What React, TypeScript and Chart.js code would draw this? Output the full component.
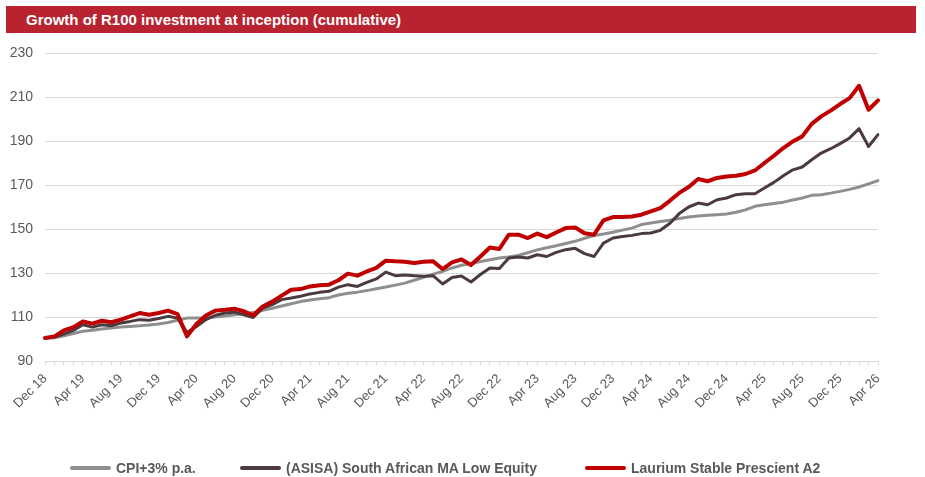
import React, { useEffect, useRef } from "react";
import { Chart, registerables } from "chart.js";

Chart.register(...registerables);

const months: string[] = (() => {
  const names = ["Jan", "Feb", "Mar", "Apr", "May", "Jun", "Jul", "Aug", "Sep", "Oct", "Nov", "Dec"];
  const out: string[] = [];
  let y = 2018;
  let m = 11;
  while (y < 2026 || (y === 2026 && m <= 3)) {
    out.push(`${names[m]} ${String(y).slice(2)}`);
    m++;
    if (m > 11) { m = 0; y++; }
  }
  return out;
})();

const cpiSeries = [
  100.2, 100.6, 101.5, 102.5, 103.5, 104.0, 104.5, 105.0, 105.4, 105.7,
  106.0, 106.4, 106.8, 107.5, 108.5, 109.5, 109.5, 109.5, 110.0, 110.5,
  111.0, 111.5, 112.0, 113.0, 114.0, 115.0, 116.0, 117.0, 117.7, 118.3,
  118.8, 120.0, 120.8, 121.3, 122.0, 122.8, 123.6, 124.5, 125.4, 126.7,
  128.0, 129.5, 130.7, 132.3, 133.5, 134.3, 135.2, 136.0, 136.8, 137.3,
  138.0, 139.2, 140.5, 141.5, 142.4, 143.4, 144.4, 145.8, 147.0, 147.7,
  148.5, 149.5, 150.4, 152.0, 152.7, 153.4, 154.0, 154.8, 155.5, 155.9,
  156.2, 156.5, 156.8, 157.6, 158.7, 160.3, 161.0, 161.6, 162.2, 163.2,
  164.1, 165.3, 165.6, 166.3, 167.1, 168.0, 169.1, 170.5, 172.0,
];

const asisaSeries = [
  100.4, 100.9, 102.2, 103.9, 106.5, 105.4, 106.5, 106.0, 107.3, 108.0,
  108.8, 108.5, 109.3, 110.3, 109.5, 103.0, 105.7, 108.8, 110.8, 111.8,
  112.2, 111.0, 109.8, 114.0, 115.6, 117.9, 118.6, 119.4, 120.5, 121.2,
  121.7, 123.6, 124.7, 123.9, 125.7, 127.3, 130.4, 128.8, 129.1, 128.8,
  128.5, 128.8, 125.0, 128.0, 128.6, 125.9, 129.3, 132.3, 132.0, 136.8,
  137.3, 136.8, 138.3, 137.5, 139.4, 140.6, 141.2, 138.8, 137.5, 143.6,
  145.9, 146.6, 147.1, 147.9, 148.2, 149.4, 152.5, 157.0, 160.0, 161.8,
  161.0, 163.3, 164.1, 165.6, 166.0, 166.0, 168.6, 171.2, 174.2, 176.9,
  178.2, 181.5, 184.5, 186.5, 188.8, 191.4, 195.6, 187.5, 192.9,
];

const lauriumSeries = [
  100.5, 101.2, 103.9, 105.4, 108.0, 107.0, 108.3, 107.6, 108.8, 110.3,
  111.8, 111.0, 111.8, 112.9, 111.3, 101.2, 106.8, 110.7, 112.9, 113.3,
  113.8, 112.6, 110.8, 114.8, 117.0, 119.7, 122.4, 122.7, 123.9, 124.4,
  124.7, 126.7, 129.7, 128.8, 130.7, 132.3, 135.6, 135.3, 135.1, 134.5,
  135.1, 135.3, 131.8, 134.8, 136.2, 133.6, 137.5, 141.6, 140.9, 147.4,
  147.4, 145.9, 147.9, 146.3, 148.4, 150.4, 150.7, 148.1, 147.4, 153.9,
  155.4, 155.4, 155.7, 156.5, 158.0, 159.5, 162.8, 166.4, 169.1, 172.7,
  171.7, 173.2, 173.9, 174.2, 175.0, 176.6, 180.0, 183.3, 186.8, 189.8,
  192.1, 197.8, 201.2, 203.8, 206.8, 209.5, 215.1, 204.2, 208.5,
];

const seriesNames = ["CPI+3% p.a.", "(ASISA) South African MA Low Equity", "Laurium Stable Prescient A2"];
const seriesColors = ["#8f8f8f", "#4b3b3f", "#c00000"];
const yTicks = [90, 110, 130, 150, 170, 190, 210, 230];

const FONT = '"Liberation Sans", Arial, Helvetica, sans-serif';

export default function App() {
  const canvasRef = useRef<HTMLCanvasElement | null>(null);

  useEffect(() => {
    const canvas = canvasRef.current;
    if (!canvas) return;
    const chart = new Chart(canvas, {
      type: "line",
      data: {
        labels: months,
        datasets: [
          {
            label: seriesNames[0],
            data: cpiSeries,
            borderColor: seriesColors[0],
            backgroundColor: seriesColors[0],
            borderWidth: 3,
            order: 3,
          },
          {
            label: seriesNames[1],
            data: asisaSeries,
            borderColor: seriesColors[1],
            backgroundColor: seriesColors[1],
            borderWidth: 3,
            order: 2,
          },
          {
            label: seriesNames[2],
            data: lauriumSeries,
            borderColor: seriesColors[2],
            backgroundColor: seriesColors[2],
            borderWidth: 4,
            order: 1,
          },
        ],
      },
      options: {
        responsive: false,
        animation: false,
        devicePixelRatio: 1,
        layout: { padding: { top: 53, right: 47, left: 0, bottom: 0 } },
        elements: {
          point: { radius: 0, hoverRadius: 0 },
          line: { tension: 0, borderJoinStyle: "round", borderCapStyle: "round" },
        },
        plugins: {
          legend: { display: false },
          tooltip: { enabled: false },
          title: { display: false },
        },
        scales: {
          x: {
            type: "category",
            offset: false,
            grid: {
              drawOnChartArea: false,
              drawTicks: true,
              tickLength: 4,
              color: "#d9d9d9",
            },
            border: { display: true, color: "#d9d9d9", width: 1 },
            ticks: {
              autoSkip: false,
              maxRotation: 45,
              minRotation: 45,
              color: "#595959",
              padding: 6,
              font: { family: FONT, size: 13 },
              callback: (_v: any, i: number) => (i % 4 === 0 ? months[i] : ""),
            },
            afterFit: (s: any) => {
              s.height = 116;
            },
          },
          y: {
            min: 90,
            max: 230,
            afterBuildTicks: (s: any) => {
              s.ticks = yTicks.map((v) => ({ value: v }));
            },
            grid: { color: "#d9d9d9", drawTicks: false, lineWidth: 1 },
            border: { display: false },
            ticks: {
              color: "#595959",
              padding: 12,
              font: { family: FONT, size: 14 },
            },
            afterFit: (s: any) => {
              s.width = 45;
            },
          },
        },
      },
    });
    return () => chart.destroy();
  }, []);

  const legendX = [70, 240, 585];

  return (
    <div
      style={{
        position: "absolute",
        left: 0,
        top: 0,
        width: 925,
        height: 477,
        background: "#ffffff",
        fontFamily: FONT,
        overflow: "hidden",
      }}
    >
      <canvas
        ref={canvasRef}
        width={925}
        height={477}
        style={{ position: "absolute", left: 0, top: 0, width: 925, height: 477 }}
      />
      <div
        style={{
          position: "absolute",
          left: 6,
          top: 6,
          width: 910,
          height: 27,
          background: "#b9232f",
          color: "#ffffff",
          fontWeight: "bold",
          fontSize: 15,
          lineHeight: "27px",
          paddingLeft: 20,
          boxSizing: "border-box",
          whiteSpace: "nowrap",
        }}
      >
        Growth of R100 investment at inception (cumulative)
      </div>
      {seriesNames.map((name, i) => (
        <div
          key={name}
          style={{
            position: "absolute",
            left: legendX[i],
            top: 458,
            height: 20,
            display: "flex",
            alignItems: "center",
            whiteSpace: "nowrap",
          }}
        >
          <div
            style={{
              width: 41,
              height: 4,
              borderRadius: 2,
              background: seriesColors[i],
              marginRight: 5,
            }}
          />
          <span style={{ fontWeight: "bold", fontSize: 14, color: "#595959" }}>{name}</span>
        </div>
      ))}
    </div>
  );
}
